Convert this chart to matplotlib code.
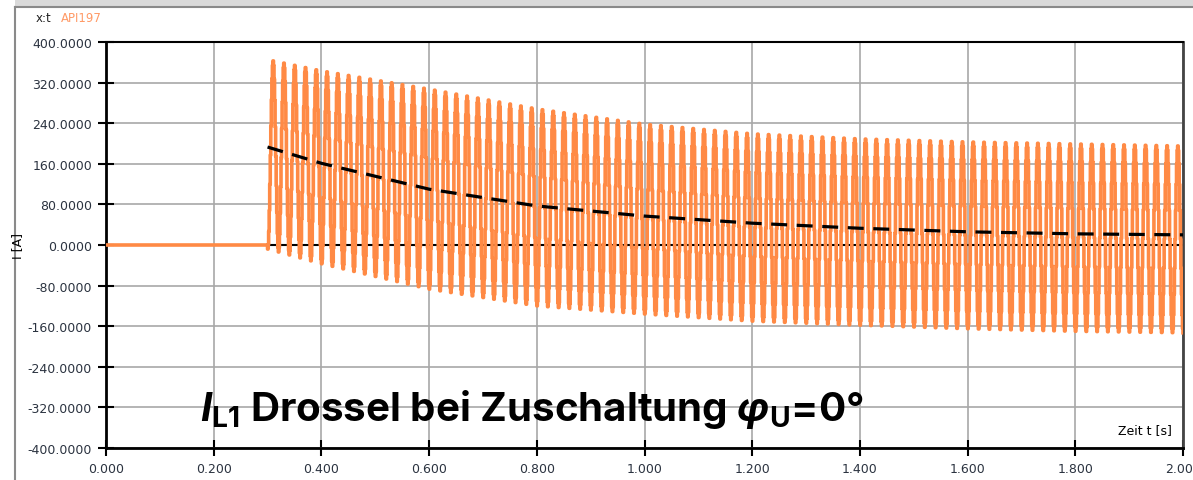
import numpy as np
import matplotlib
matplotlib.use("Agg")
import matplotlib.pyplot as plt
from matplotlib.lines import Line2D
from matplotlib.patches import Rectangle

# ---- data ----
t_switch = 0.3          # switching instant [s]
f_grid = 50.0           # grid frequency [Hz]
env_t = [0.30, 0.40, 0.60, 0.80, 1.00, 1.20, 1.40, 1.60, 1.80, 2.00]
upper_peak = [365, 343, 307, 268, 238, 219, 209, 203, 199, 195]
lower_peak = [-8, -37, -87, -120, -136, -150, -158, -165, -170, -173]
dc_t = [0.30, 0.40, 0.60, 0.80, 1.00, 1.20, 1.40, 1.60, 1.80, 2.00]
dc_val = [193, 161, 110, 77, 57, 43, 33, 26, 22, 20]
y_ticks = [-400, -320, -240, -160, -80, 0, 80, 160, 240, 320, 400]
x_ticks = [0.0, 0.2, 0.4, 0.6, 0.8, 1.0, 1.2, 1.4, 1.6, 1.8, 2.0]

# ---- signal built from the read envelope ----
t = np.arange(0.0, 2.0005, 0.001)
up = np.interp(t, env_t, upper_peak)
lo = np.interp(t, env_t, lower_peak)
mid = (up + lo) / 2
amp = (up - lo) / 2
i_sig = np.where(t < t_switch, 0.0,
                 mid - amp * np.cos(2 * np.pi * f_grid * (t - t_switch)))

plt.rcParams['font.family'] = ['DejaVu Sans']
fig = plt.figure(figsize=(11.93, 4.81), dpi=100)
fig.patch.set_facecolor('white')

# outer window frame
fig.patches.append(Rectangle((15/1193, 1-8/481), 1-15/1193, 8/481,
                             transform=fig.transFigure, facecolor='#dadada',
                             edgecolor='none', zorder=0))
fig.lines.append(Line2D([15/1193, 1], [1-8/481, 1-8/481], transform=fig.transFigure,
                        color='#8a8a8a', lw=1.5))
fig.lines.append(Line2D([15/1193, 15/1193], [0, 1-8/481], transform=fig.transFigure,
                        color='#8a8a8a', lw=1.5))

ax = fig.add_axes([106/1193, 1-449/481, 1077/1193, 406/481])
ax.set_xlim(0, 2.0)
ax.set_ylim(-400, 400)

ax.plot([t_switch, 2.0], [0, 0], color='black', lw=1.5, zorder=2)
ax.plot(t, i_sig, color='#ff8a45', lw=2.6, drawstyle='steps-post', zorder=3)
ax.plot(dc_t, dc_val, color='black', lw=2.3, dashes=(5, 3), zorder=4)

ax.set_xticks(x_ticks)
ax.set_xticklabels([f"{v:.3f}" for v in x_ticks])
ax.set_yticks(y_ticks)
ax.set_yticklabels([f"{v:.4f}" for v in y_ticks])
ax.grid(True, color='#a8a8a8', lw=1.2)
ax.set_axisbelow(True)
ax.tick_params(direction='inout', length=12, width=1.5, color='black',
               labelsize=9, labelcolor='#2b3340', pad=4)
for s in ['left', 'bottom']:
    ax.spines[s].set_linewidth(2)
    ax.spines[s].set_color('black')
ax.spines['top'].set_linewidth(1.5)
ax.spines['right'].set_linewidth(2)
ax.spines['right'].set_color('#444444')

ax.text(0.99, 0.03, 'Zeit t [s]', transform=ax.transAxes, ha='right', va='bottom',
        fontsize=9, color='black')
fig.text(18/1193, 1-246/481, 'I [A]', rotation=90, ha='center', va='center',
         fontsize=9, color='black')
fig.text(36/1193, 1-18/481, 'x:t', ha='left', va='center', fontsize=8.5, color='#222222')
fig.text(61/1193, 1-18/481, 'API197', ha='left', va='center', fontsize=8.5, color='#ff9a66')

plt.rcParams['mathtext.fontset'] = 'custom'
plt.rcParams['mathtext.rm'] = 'Inter:bold'
plt.rcParams['mathtext.bf'] = 'Inter:bold'
plt.rcParams['mathtext.it'] = 'Inter:bold:italic'
ax.text((200-106)/1077, (449-421)/406,
        r'$I_{\mathrm{L1}}$ Drossel bei Zuschaltung $φ_{\mathrm{U}}$=0°',
        transform=ax.transAxes, ha='left', va='baseline', fontsize=29,
        fontweight='bold', family='Inter', color='black', zorder=6)

fig.savefig('out.png', dpi=100)
